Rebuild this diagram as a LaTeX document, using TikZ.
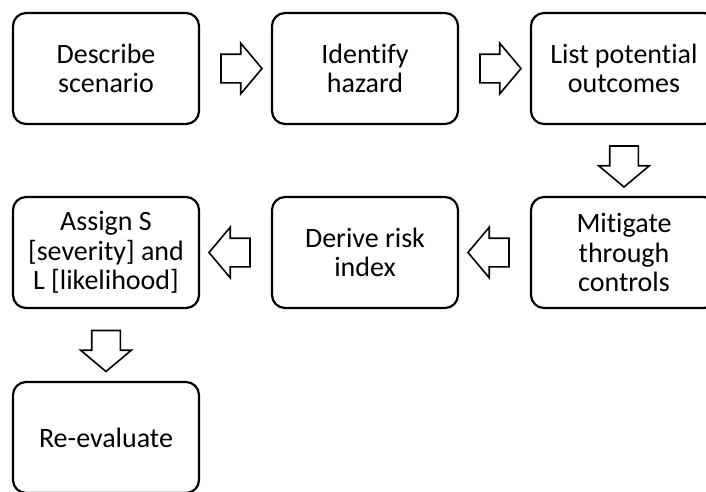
\documentclass[tikz,border=0pt]{standalone}
\usepackage{fontspec}
\setmainfont[Ligatures=NoCommon]{Carlito}
\usetikzlibrary{calc}
\usetikzlibrary{shapes,arrows}

\begin{document}
\begin{tikzpicture}[x=1pt, y=-1pt,
    stepbox/.style={draw, line width=2.2pt, rounded corners=13pt, minimum width=186pt,
      minimum height=111pt, align=center, inner sep=0pt,
      font=\fontsize{28}{29.5}\selectfont},
    blockarrow/.style={draw, single arrow, line width=1.6pt, inner xsep=0pt, inner ysep=13.5pt,
      minimum height=41pt, single arrow head extend=11pt,
      single arrow tip angle=100}]
    \useasboundingbox [clip] (0,0) rectangle (706,491);

    \node [stepbox] (describe) at (106, 68.5) {Describe\\scenario};
    \node [stepbox] (hazard) at (365, 68.5) {Identify\\hazard};
    \node [stepbox] (outcomes) at (624, 68.5) {List potential\\outcomes};
    \node [stepbox] (mitigate) at (624, 252.5) {Mitigate\\through\\controls};
    \node [stepbox] (derive) at (365, 252.5) {Derive risk\\index};
    \node [stepbox] (assign) at (106, 252.5) {Assign S\\{[severity]} and\\L [likelihood]};
    \node [stepbox] (reeval) at (106, 437.5) {Re-evaluate};

    \node [blockarrow] (a1) at ($(describe.east)!0.5!(hazard.west)$) {};
    \node [blockarrow] (a2) at ($(hazard.east)!0.5!(outcomes.west)$) {};
    \node [blockarrow, rotate=-90] (a3) at ($(outcomes.south)!0.5!(mitigate.north)$) {};
    \node [blockarrow, rotate=180] (a4) at ($(mitigate.west)!0.5!(derive.east)$) {};
    \node [blockarrow, rotate=180] (a5) at ($(derive.west)!0.5!(assign.east)$) {};
    \node [blockarrow, rotate=-90] (a6) at ($(assign.south)!0.5!(reeval.north)$) {};
  \end{tikzpicture}
\end{document}
